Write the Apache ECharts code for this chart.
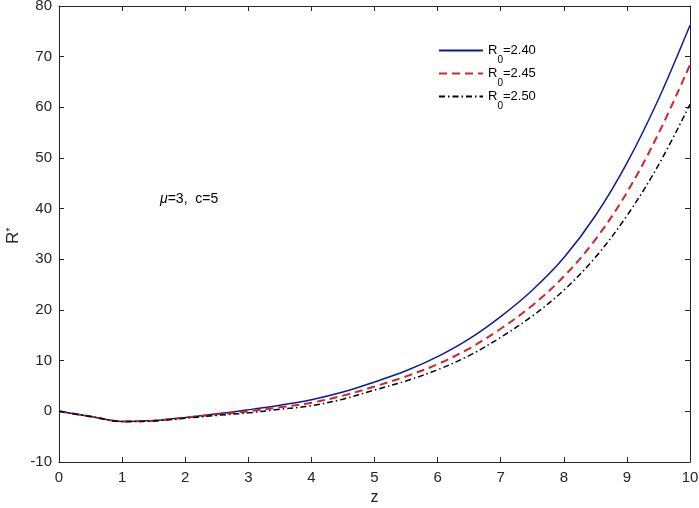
<!DOCTYPE html>
<html>
<head>
<meta charset="utf-8">
<script src="https://cdn.jsdelivr.net/npm/echarts@6/dist/echarts.min.js"></script>
<style>
  html, body { margin: 0; padding: 0; background: #fff; }
  #chart { width: 699px; height: 508px; }
</style>
</head>
<body>
<div id="chart"></div>
<script>
// z values along the x axis
const zValues = [0, 0.5, 1, 1.5, 2, 2.5, 3, 3.5, 4, 4.5, 5, 5.5, 6, 6.5, 7, 7.5, 8, 8.5, 9, 9.5, 10]

// R* for each R0
const r240 = [0, -1.0, -2.0, -1.8, -1.2, -0.5, 0.3, 1.2, 2.3, 3.8, 5.8, 8.0, 10.8, 14.3, 18.7, 23.9, 30.3, 38.6, 49.0, 61.6, 76.2]
const r245 = [0, -1.0, -2.0, -1.85, -1.25, -0.6, 0.0, 0.8, 1.7, 3.1, 4.9, 6.9, 9.3, 12.4, 16.3, 20.9, 26.6, 33.9, 43.2, 54.8, 68.4]
const r250 = [0, -1.0, -2.0, -1.9, -1.35, -0.8, -0.3, 0.4, 1.1, 2.4, 4.2, 6.0, 8.2, 11.0, 14.6, 18.8, 23.9, 30.4, 38.6, 48.6, 60.6]

const seriesNames = ['R0=2.40', 'R0=2.45', 'R0=2.50']
const xTicks = { min: 0, max: 10, interval: 1 }
const yTicks = { min: -10, max: 80, interval: 10 }

const axisColor = '#262626'
const font = 'Liberation Sans, Arial, sans-serif'

function pairs(ys) {
    return zValues.map((z, i) => [z, ys[i]])
}

function boxAxis(extra) {
    return Object.assign({
        type: 'value',
        axisLine: { show: true, onZero: false, lineStyle: { color: axisColor, width: 1 } },
        axisTick: { show: true, inside: true, length: 5, lineStyle: { color: axisColor } },
        splitLine: { show: false },
    }, extra)
}

let chart = echarts.init(document.getElementById('chart'))

let option = {
    animation: false,
    grid: {
        left: 59,
        right: 9,
        top: 6,
        bottom: 46,
        outerBoundsMode: 'none',
        containLabel: false,
    },
    legend: {
        data: seriesNames,
        orient: 'vertical',
        left: 438,
        top: 44,
        padding: 0,
        itemWidth: 44,
        itemHeight: 10,
        itemGap: 2,
        itemStyle: { opacity: 0, borderWidth: 0 },
        lineStyle: { opacity: 1 },
        formatter: function (name) {
            return '{a|R}{s|0}{a|' + name.slice(2) + '}'
        },
        textStyle: {
            fontFamily: font,
            color: '#000',
            rich: {
                a: { fontSize: 13, fontFamily: font, color: '#000' },
                s: { fontSize: 10, fontFamily: font, color: '#000', verticalAlign: 'bottom', padding: [0, 0, -8, 0] },
            },
        },
    },
    xAxis: [
        boxAxis({
            min: xTicks.min,
            max: xTicks.max,
            interval: xTicks.interval,
            name: 'z',
            nameLocation: 'middle',
            nameGap: 22,
            nameTextStyle: { fontSize: 16, fontFamily: font, color: axisColor },
            axisLabel: { fontSize: 15, fontFamily: font, color: axisColor, margin: 8 },
        }),
        boxAxis({
            position: 'top',
            min: xTicks.min,
            max: xTicks.max,
            interval: xTicks.interval,
            axisLabel: { show: false },
        }),
    ],
    yAxis: [
        boxAxis({
            min: yTicks.min,
            max: yTicks.max,
            interval: yTicks.interval,
            axisLabel: { fontSize: 15, fontFamily: font, color: axisColor, margin: 7 },
        }),
        boxAxis({
            position: 'right',
            min: yTicks.min,
            max: yTicks.max,
            interval: yTicks.interval,
            axisLabel: { show: false },
        }),
    ],
    graphic: [
        {
            type: 'text',
            left: 160,
            top: 192,
            style: {
                text: '{m|μ}{t|=3,  c=5}',
                rich: {
                    m: { fontSize: 14, fontFamily: font, fontStyle: 'italic', fill: '#000' },
                    t: { fontSize: 14, fontFamily: font, fill: '#000' },
                },
            },
        },
        {
            // y axis title R*
            type: 'text',
            x: 5,
            y: 244,
            rotation: Math.PI / 2,
            style: {
                text: '{r|R}{st|*}',
                rich: {
                    r: { fontSize: 17, fontFamily: font, fill: axisColor },
                    st: { fontSize: 11, fontFamily: font, fill: axisColor, verticalAlign: 'top', padding: [0, 0, 6, 0] },
                },
            },
        },
    ],
    series: [
        {
            name: seriesNames[0],
            type: 'line',
            data: pairs(r240),
            smooth: 0.35,
            showSymbol: false,
            symbol: 'none',
            color: '#0c1c96',
            lineStyle: { width: 1.5, color: '#0c1c96', type: 'solid' },
        },
        {
            name: seriesNames[1],
            type: 'line',
            data: pairs(r245),
            smooth: 0.35,
            showSymbol: false,
            symbol: 'none',
            color: '#d42525',
            lineStyle: { width: 2, color: '#d42525', type: [8, 5] },
        },
        {
            name: seriesNames[2],
            type: 'line',
            data: pairs(r250),
            smooth: 0.35,
            showSymbol: false,
            symbol: 'none',
            color: '#000000',
            lineStyle: { width: 1.5, color: '#000000', type: [6, 3, 1.5, 3] },
        },
    ],
}

chart.setOption(option)
window.addEventListener('resize', () => {
    chart.resize()
})
</script>
</body>
</html>
